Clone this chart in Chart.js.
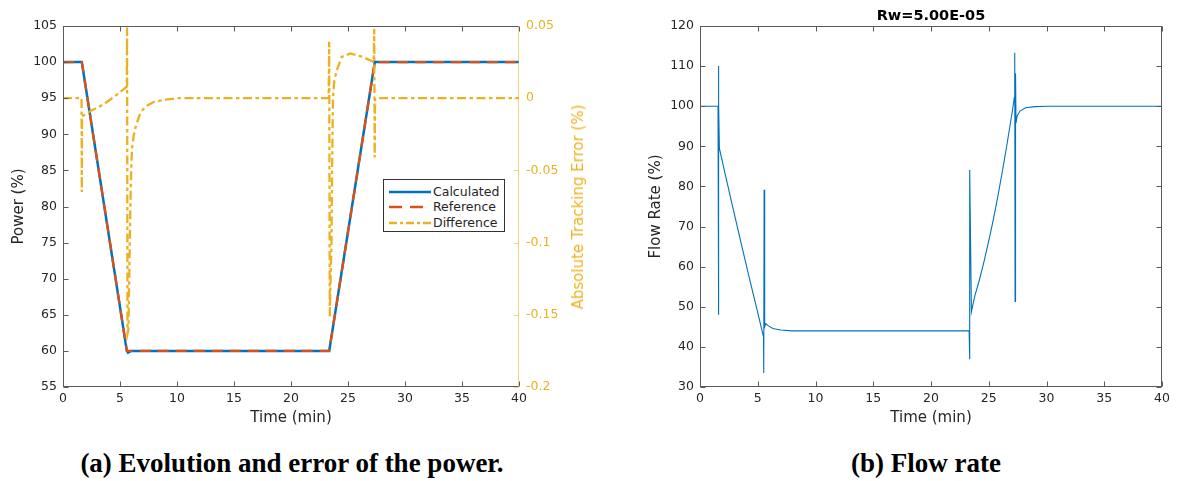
<!DOCTYPE html>
<html>
<head>
<meta charset="utf-8">
<script src="https://cdn.jsdelivr.net/npm/chart.js@4.4.0/dist/chart.umd.min.js"></script>
<style>
body{margin:0;background:#fff;width:1179px;height:481px;position:relative;overflow:hidden;font-family:"DejaVu Sans",sans-serif;color:#262626;}
#wrapA{position:absolute;left:0;top:0;width:590px;height:430px;}
#wrapB{position:absolute;left:590px;top:0;width:589px;height:430px;}
.cap{position:absolute;top:448px;width:600px;text-align:center;font-family:"Liberation Serif",serif;font-weight:bold;font-size:27px;color:#000;white-space:nowrap;}
#legend{position:absolute;left:383px;top:179px;width:120px;height:51px;border:1px solid #333;background:#fff;font-size:12.5px;}
#legend .row{position:absolute;left:0;height:14px;line-height:14px;}
#legend svg{position:absolute;left:5px;top:4px;}
#legend span{position:absolute;left:49px;top:0;white-space:nowrap;}
#y2title{position:absolute;left:578px;top:207px;transform:translate(-50%,-50%) rotate(-90deg);font-size:15px;color:#EDB120;white-space:nowrap;}
#titleB{position:absolute;left:931px;top:15px;transform:translate(-50%,-50%);font-size:14.5px;font-weight:bold;color:#000;white-space:nowrap;}
</style>
</head>
<body>
<div id="wrapA"><canvas id="chartA" width="590" height="430"></canvas></div>
<div id="wrapB"><canvas id="chartB" width="589" height="430"></canvas></div>

<div id="legend">
  <div class="row" style="top:5px"><svg width="42" height="6"><line x1="0" y1="3" x2="42" y2="3" stroke="#0072BD" stroke-width="2.5"/></svg><span>Calculated</span></div>
  <div class="row" style="top:20px"><svg width="42" height="6"><line x1="0" y1="3" x2="42" y2="3" stroke="#D95319" stroke-width="2.5" stroke-dasharray="13 8"/></svg><span>Reference</span></div>
  <div class="row" style="top:36px"><svg width="42" height="6"><line x1="0" y1="3" x2="42" y2="3" stroke="#EDB120" stroke-width="2.5" stroke-dasharray="8 3 3 3"/></svg><span>Difference</span></div>
</div>
<div id="y2title">Absolute Tracking Error (%)</div>
<div id="titleB">Rw=5.00E-05</div>

<div class="cap" style="left:-8px">(a) Evolution and error of the power.</div>
<div class="cap" style="left:626px">(b) Flow rate</div>

<script>
// left chart: power (%) and tracking error (%)
var timeCalc = [0, 1.65, 5.6, 5.7, 6.0, 23.35, 27.35, 40];
var calculated = [100, 100, 60, 59.75, 60, 60, 100, 100];

var timeRef = [0, 1.65, 5.6, 23.35, 27.35, 40];
var reference = [100, 100, 60, 60, 100, 100];

var timeDiff = [0, 1.63, 1.65, 1.67, 1.78, 2.5, 3.5, 4.5, 5.59, 5.62, 5.66, 5.74, 5.82, 5.9, 5.98, 6.05, 6.2, 6.4, 6.7, 7.0, 7.4, 8.0, 9.0, 10.0,
  23.3, 23.35, 23.4, 23.55, 23.62, 23.68, 23.8, 24.0, 24.45, 25.2, 26.3, 27.25, 27.3, 27.34, 27.38, 40];
var difference = [0, 0, -0.065, -0.013, -0.012, -0.0085, -0.0045, 0.001, 0.008, 0.049, -0.163, -0.16, -0.12, -0.08, -0.05, -0.035, -0.026, -0.019, -0.012, -0.008, -0.005, -0.0025, -0.001, 0,
  0, 0.039, -0.151, -0.1, -0.04, 0.0, 0.012, 0.019, 0.0286, 0.031, 0.0286, 0.025, 0.048, -0.041, 0, 0];

// right chart: flow rate (%)
var timeFlow = [0, 1.56, 1.58, 1.61, 1.64, 1.68, 2.2, 2.8, 3.5, 4.2, 4.9, 5.5, 5.52, 5.55, 5.6, 5.7, 5.9, 6.3, 7.0, 8.0, 23.3,
  23.33, 23.37, 23.5, 23.8, 24.2, 24.6, 25.0, 25.4, 25.8, 26.2, 26.6, 27.0, 27.22, 27.25, 27.28, 27.32, 27.36, 27.45, 27.7, 28.2, 29, 30, 40];
var flowRate = [100, 100, 110, 48, 100.8, 89.5, 82.8, 75.3, 66.6, 58.0, 49.7, 42.5, 33.5, 79.2, 45, 45.8, 45.3, 44.6, 44.2, 44, 44,
  36.9, 84.1, 48.8, 52.8, 56.8, 61.4, 66.4, 71.8, 77.7, 84.1, 90.9, 98.0, 102.2, 113.3, 51.3, 108.2, 95.8, 97.5, 98.8, 99.6, 99.9, 100, 100];

var xTicks = [0, 5, 10, 15, 20, 25, 30, 35, 40];

function pts(xs, ys) {
  return xs.map(function(x, i) { return {x: x, y: ys[i]}; });
}

var tickFont = {family: 'DejaVu Sans', size: 12.5};
var titleFont = {family: 'DejaVu Sans', size: 15};
var dark = '#262626';

// matlab style box with inward ticks
var boxTicks = {
  id: 'boxTicks',
  afterDraw: function(chart) {
    var ctx = chart.ctx, a = chart.chartArea;
    var o = chart.options.plugins.boxTicks;
    ctx.save();
    ctx.lineWidth = 1;
    function seg(x1, y1, x2, y2, c) {
      ctx.strokeStyle = c;
      ctx.beginPath(); ctx.moveTo(x1, y1); ctx.lineTo(x2, y2); ctx.stroke();
    }
    var L = Math.round(a.left) + 0.5, R = Math.round(a.right) - 0.5;
    var T = Math.round(a.top) + 0.5, B = Math.round(a.bottom) - 0.5;
    var xs = chart.scales.x;
    xs.ticks.forEach(function(t) {
      var px = Math.round(xs.getPixelForValue(t.value)) + 0.5;
      seg(px, B, px, B - 5, o.frame);
      seg(px, T, px, T + 5, o.frame);
    });
    var ys = chart.scales.y;
    ys.ticks.forEach(function(t) {
      var py = Math.round(ys.getPixelForValue(t.value)) + 0.5;
      seg(L, py, L + 5, py, o.frame);
      if (!chart.scales.y2) seg(R, py, R - 5, py, o.frame);
    });
    if (chart.scales.y2) {
      var y2 = chart.scales.y2;
      y2.ticks.forEach(function(t) {
        var py = Math.round(y2.getPixelForValue(t.value)) + 0.5;
        seg(R, py, R - 5, py, o.right);
      });
    }
    seg(L, a.top, L, a.bottom, o.frame);
    seg(a.left, B, a.right, B, o.frame);
    seg(a.left, T, a.right, T, o.frame);
    seg(R, a.top, R, a.bottom, o.right);
    ctx.restore();
  }
};

function fixW(w) { return function(s) { s.width = w; }; }
function fixH(h) { return function(s) { s.height = h; }; }

function xScale() {
  return {
    type: 'linear', min: 0, max: 40,
    afterFit: fixH(43),
    afterBuildTicks: function(s) { s.ticks = xTicks.map(function(v) { return {value: v}; }); },
    grid: {display: false, drawTicks: false}, border: {display: false},
    ticks: {font: tickFont, color: dark, padding: 4, maxRotation: 0},
    title: {display: true, text: 'Time (min)', font: titleFont, color: dark, padding: {top: 0, bottom: 3}}
  };
}

new Chart(document.getElementById('chartA'), {
  type: 'scatter',
  data: {
    datasets: [
      {label: 'Calculated', data: pts(timeCalc, calculated), showLine: true, borderColor: '#0072BD', borderWidth: 2.5, pointRadius: 0, yAxisID: 'y', order: 3},
      {label: 'Reference', data: pts(timeRef, reference), showLine: true, borderColor: '#D95319', borderWidth: 2.3, borderDash: [11, 7], pointRadius: 0, yAxisID: 'y', order: 2},
      {label: 'Difference', data: pts(timeDiff, difference), showLine: true, borderColor: '#EDB120', borderWidth: 2.3, borderDash: [9, 3.5, 3.5, 3.5], pointRadius: 0, yAxisID: 'y2', order: 1}
    ]
  },
  options: {
    responsive: false, animation: false,
    layout: {padding: {top: 26, left: 0, right: 0, bottom: 0}},
    plugins: {legend: {display: false}, tooltip: {enabled: false}, boxTicks: {frame: '#5a5a5a', right: 'rgba(237,177,32,0.55)'}},
    scales: {
      x: xScale(),
      y: {
        position: 'left', min: 55, max: 105,
        afterFit: fixW(63),
        grid: {display: false, drawTicks: false}, border: {display: false},
        ticks: {stepSize: 5, font: tickFont, color: dark, padding: 6},
        title: {display: true, text: 'Power (%)', font: titleFont, color: dark, padding: {top: 10}}
      },
      y2: {
        position: 'right', min: -0.2, max: 0.05,
        afterFit: fixW(71),
        grid: {display: false, drawTicks: false}, border: {display: false},
        ticks: {stepSize: 0.05, font: tickFont, color: '#EDB120', padding: 7,
          callback: function(v) { return String(Math.round(v * 100) / 100); }},
        title: {display: false}
      }
    }
  },
  plugins: [boxTicks]
});

new Chart(document.getElementById('chartB'), {
  type: 'scatter',
  data: {
    datasets: [
      {label: 'Flow rate', data: pts(timeFlow, flowRate), showLine: true, borderColor: '#0072BD', borderWidth: 1.1, pointRadius: 0}
    ]
  },
  options: {
    responsive: false, animation: false,
    layout: {padding: {top: 26, left: 47, right: 17, bottom: 0}},
    plugins: {legend: {display: false}, tooltip: {enabled: false}, boxTicks: {frame: '#5a5a5a', right: '#5a5a5a'}},
    scales: {
      x: xScale(),
      y: {
        position: 'left', min: 30, max: 120,
        afterFit: fixW(63),
        grid: {display: false, drawTicks: false}, border: {display: false},
        ticks: {stepSize: 10, font: tickFont, color: dark, padding: 6},
        title: {display: true, text: 'Flow Rate (%)', font: titleFont, color: dark, padding: {top: 10}}
      }
    }
  },
  plugins: [boxTicks]
});
</script>
</body>
</html>
